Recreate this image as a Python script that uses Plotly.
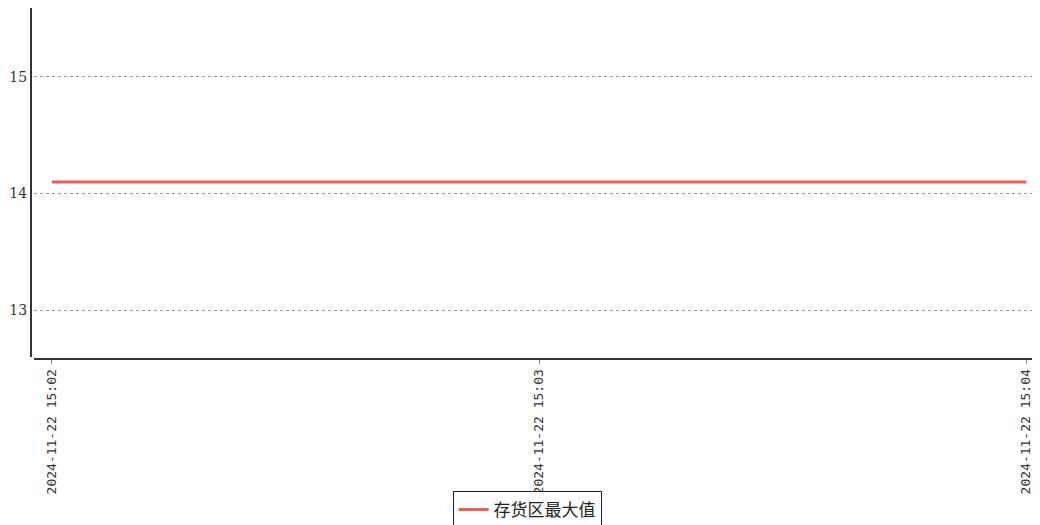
import plotly.graph_objects as go
import pandas as pd

times = ["2024-11-22 15:02:00", "2024-11-22 15:03:00", "2024-11-22 15:04:00"]
values = [14.1, 14.1, 14.1]
series_name = "存货区最大值"
tick_vals = ["2024-11-22 15:02:00", "2024-11-22 15:03:00", "2024-11-22 15:04:00"]
tick_text = ["2024-11-22 15:02", "2024-11-22 15:03", "2024-11-22 15:04"]

x = pd.to_datetime(times)
fig = go.Figure()
fig.add_trace(go.Scatter(x=x, y=values, mode="lines", name=series_name,
                         line=dict(color="#e8605a", width=3)))

# page has an 8px body margin, so the figure is sized to fill the rest
W, H = 1032, 517
ml, mr, mt, mb = 23, 0, 0, 166
pw = W - ml - mr
ph = H - mt - mb

xr0 = pd.Timestamp("2024-11-22 15:02:00") - pd.Timedelta(seconds=2.2)
xr1 = pd.Timestamp("2024-11-22 15:04:00") + pd.Timedelta(seconds=1.7)

fig.update_layout(
    width=W, height=H,
    margin=dict(l=ml, r=mr, t=mt, b=mb, autoexpand=False),
    paper_bgcolor="white", plot_bgcolor="white",
    font=dict(family="DejaVu Sans Mono, Noto Sans CJK SC", color="#333"),
    showlegend=True,
    legend=dict(orientation="h", x=0.503, xanchor="center", xref="container",
                y=0.066, yanchor="top", yref="container",
                bordercolor="#222", borderwidth=1,
                font=dict(size=17, family="Noto Sans CJK SC", color="#222"),
                itemwidth=30, tracegroupgap=0),
    xaxis=dict(
        type="date", range=[xr0, xr1],
        domain=[3 / pw, 1],
        tickvals=pd.to_datetime(tick_vals), ticktext=tick_text,
        tickangle=-90, tickfont=dict(size=13, family="DejaVu Sans Mono"),
        showgrid=False, zeroline=False, automargin=False,
        showline=True, linecolor="#333", linewidth=2,
        ticks="outside", ticklen=4, tickcolor="#888",
        anchor="free", position=0,
    ),
    yaxis=dict(
        range=[12.6, 15.59],
        domain=[2 / ph, 1],
        tickvals=[13, 14, 15],
        tickfont=dict(size=14, family="DejaVu Serif"),
        showgrid=True, gridcolor="#999", griddash="dot", gridwidth=1,
        zeroline=False, automargin=False,
        showline=True, linecolor="#333", linewidth=2,
        ticks="", ticklabelstandoff=0,
        anchor="free", position=0,
    ),
)

fig.write_html("out.html")
